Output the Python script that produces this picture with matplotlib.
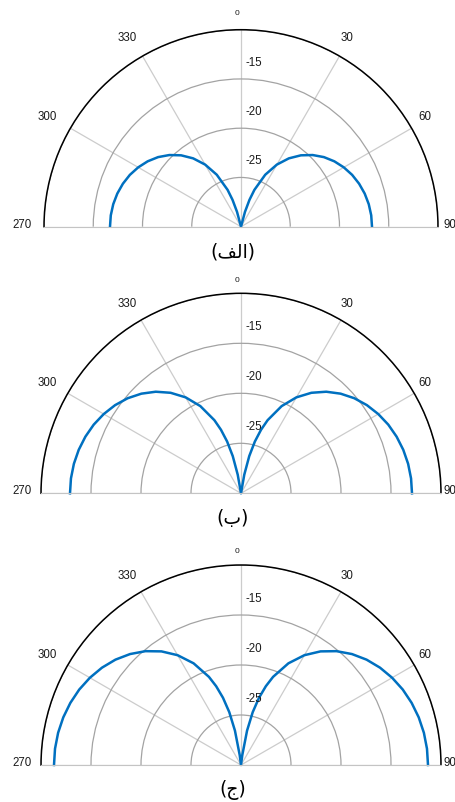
import numpy as np
import matplotlib
matplotlib.use('Agg')
import matplotlib.pyplot as plt

plt.rcParams['font.family'] = ['Liberation Sans', 'DejaVu Sans']

# angles of one lobe (deg), the other lobe is the mirror image (270..360)
angles = [0, 2.5, 5, 7.5, 10, 12.5, 15, 17.5, 20, 25, 30, 35, 40, 45,
          50, 55, 60, 65, 70, 75, 80, 85, 90]

# pattern values (dB)
vals_a = [-30, -30, -30, -30, -30, -30, -28.44, -27.14, -26.02, -24.18, -22.72,
          -21.53, -20.54, -19.71, -19.01, -18.43, -17.95, -17.55, -17.24, -17.00,
          -16.83, -16.73, -16.70]
vals_b = [-30, -30, -30, -30, -28.11, -26.19, -24.64, -23.34, -22.22, -20.38, -18.92,
          -17.73, -16.74, -15.91, -15.21, -14.63, -14.15, -13.75, -13.44, -13.20,
          -13.03, -12.93, -12.90]
vals_c = [-30, -30, -30, -28.99, -26.51, -24.59, -23.04, -21.74, -20.62, -18.78, -17.32,
          -16.13, -15.14, -14.31, -13.61, -13.03, -12.55, -12.15, -11.84, -11.60,
          -11.43, -11.33, -11.30]

r_ticks = [-25, -20, -15]
theta_ticks = [-90, -60, -30, 0, 30, 60, 90]
theta_labels = ['270', '300', '330', '0', '30', '60', '90']

# captions: Persian letters, written in visual order with presentation forms
# because matplotlib does no Arabic shaping
captions = ['(\ufed2\ufedf\ufe8d)', '(\u0628)', '(\u062c)']

W, H = 455, 803
# centre x, centre y (from top), radius (pixels)
panels = [(241, 227.7, 197), (241, 494.3, 200), (241, 766, 200)]
# label offsets from the centre in pixels
lab_off = {'270': (-219, 3), '300': (-194, 111), '330': (-114, 190), '0': (-4, 214),
           '30': (106, 190), '60': (184, 111), '90': (209, 3)}

fig = plt.figure(figsize=(W / 100, H / 100), dpi=100)
axes = []

for (cx, cy, rad), vals, cap in zip(panels, [vals_a, vals_b, vals_c], captions):
    ax = fig.add_axes([0.1, 0.1, 0.8, 0.3], projection='polar')
    ax.set_theta_zero_location('N')
    ax.set_theta_direction(-1)
    ax.set_thetamin(-90)
    ax.set_thetamax(90)
    ax.set_ylim(-30, -10)

    ax.set_xticks(np.deg2rad(theta_ticks))
    ax.set_xticklabels([])
    ax.set_yticks(r_ticks + [-10])
    ax.set_yticklabels([])
    ax.tick_params(length=0)
    ax.xaxis.grid(True, color='#cccccc', lw=0.9)
    ax.yaxis.grid(True, color='#a3a3a3', lw=0.9)
    ax.spines['polar'].set_color('black')
    ax.spines['polar'].set_linewidth(1.1)
    ax.spines['start'].set_color('#c4c4c4')
    ax.spines['end'].set_color('#c4c4c4')

    th = np.deg2rad(angles)
    v = np.array(vals)
    ax.plot(np.concatenate([-th[::-1], th]), np.concatenate([v[::-1], v]),
            color='#0070C0', lw=1.8, clip_on=False, solid_joinstyle='round')

    for t in r_ticks:
        ax.annotate(str(t), xy=(0, t), xytext=(4, 17), textcoords='offset pixels',
                    ha='left', va='center', fontsize=8.3, color='#1a1a1a')
    for lab in theta_labels:
        dx, dy = lab_off[lab]
        ax.annotate(lab, xy=(0, -30), xytext=(dx, dy), textcoords='offset pixels',
                    ha='center', va='center', fontsize=6 if lab == '0' else 8.3,
                    color='#1a1a1a', annotation_clip=False)

    fig.text((cx - 8) / W, 1 - (cy + 24) / H, cap, ha='center', va='center',
             fontsize=13.5, family=['DejaVu Sans'])
    axes.append(ax)

# move each polar axes so its centre and radius land where they are in the reference
fig.canvas.draw()
for ax, (cx, cy, rad) in zip(axes, panels):
    x0, y0, w0, h0 = ax.get_position().bounds
    c = ax.transData.transform((0, -30))
    e = ax.transData.transform((np.pi / 2, -10))
    s = rad / (e[0] - c[0])
    fx = (c[0] / W - x0) / w0
    fy = (c[1] / H - y0) / h0
    w, h = w0 * s, h0 * s
    ax.set_position([cx / W - fx * w, (H - cy) / H - fy * h, w, h])

fig.savefig('out.png', dpi=100)
